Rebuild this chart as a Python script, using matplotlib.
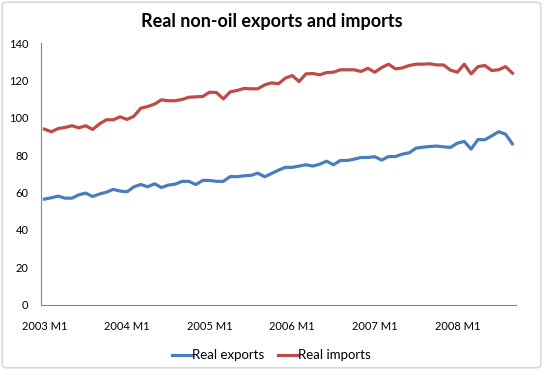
import matplotlib
matplotlib.use("Agg")
import matplotlib.pyplot as plt
import numpy as np
from matplotlib.patches import FancyBboxPatch

plt.rcParams['font.family'] = ['Lato', 'DejaVu Sans']

# monthly data, 2003 M1 .. 2008 M9
real_exports = [
    56.5, 57.2, 58.1, 57.0, 57.0, 58.8, 59.7, 57.9, 59.2, 60.2, 61.7, 60.8,
    60.4, 63.1, 64.3, 63.1, 64.7, 62.7, 64.0, 64.5, 66.0, 66.0, 64.3, 66.5,
    66.5, 66.0, 66.0, 68.6, 68.5, 69.0, 69.2, 70.4, 68.5, 70.2, 72.0, 73.5,
    73.5, 74.2, 74.9, 74.2, 75.2, 76.8, 74.9, 77.2, 77.2, 77.9, 78.8, 78.8,
    79.2, 77.4, 79.3, 79.3, 80.6, 81.3, 83.8, 84.3, 84.7, 84.9, 84.5, 84.2,
    86.5, 87.4, 83.3, 88.4, 88.3, 90.4, 92.6, 91.3, 86.1,
]
real_imports = [
    94.0, 92.6, 94.3, 94.9, 95.8, 94.7, 95.8, 93.8, 96.8, 99.0, 99.0, 100.6,
    99.2, 100.9, 105.2, 106.1, 107.4, 109.7, 109.2, 109.2, 109.9, 111.1, 111.3, 111.5,
    113.8, 113.6, 110.2, 114.0, 114.7, 115.8, 115.6, 115.6, 117.7, 118.8, 118.3, 121.3,
    122.7, 119.5, 123.6, 123.8, 123.1, 124.3, 124.5, 125.8, 125.8, 125.8, 124.9, 126.6,
    124.5, 127.0, 128.8, 126.3, 126.8, 128.1, 128.8, 128.8, 129.0, 128.4, 128.4, 125.6,
    124.5, 128.8, 123.6, 127.5, 128.1, 125.4, 125.8, 127.5, 124.0,
]
tick_years = ['2003 M1', '2004 M1', '2005 M1', '2006 M1', '2007 M1', '2008 M1']

months = np.arange(len(real_exports))

fig = plt.figure(figsize=(5.43, 3.70), dpi=100)
ax = fig.add_axes([0.0755, 0.177, 0.8745, 0.706])

ax.plot(months, real_exports, color='#4A7EBB', lw=2.3, label='Real exports')
ax.plot(months, real_imports, color='#BE4B48', lw=2.3, label='Real imports')

ax.set_xlim(-0.5, len(months) - 0.5)
ax.set_ylim(0, 140)
ax.set_yticks(np.arange(0, 141, 20))
ax.set_xticks(np.arange(0, len(months), 12))
ax.set_xticklabels(tick_years)
ax.tick_params(axis='both', length=0, labelsize=8, colors='black')
ax.tick_params(axis='x', pad=12)
ax.tick_params(axis='y', pad=9)

for side in ['top', 'right']:
    ax.spines[side].set_visible(False)
for side in ['left', 'bottom']:
    ax.spines[side].set_color('#868686')
    ax.spines[side].set_linewidth(0.8)

fig.suptitle('Real non-oil exports and imports', fontsize=13, fontweight='bold',
             y=0.965)

fig.legend(loc='center', bbox_to_anchor=(0.5, 0.04), ncol=2, frameon=False,
           fontsize=9.5, handlelength=1.5, handletextpad=0.05, columnspacing=1.0)

border = FancyBboxPatch((0.004, 0.006), 0.992, 0.988, boxstyle='round,pad=0,rounding_size=0.01',
                        transform=fig.transFigure, fill=False, edgecolor='#D9D9D9', lw=1.2)
fig.patches.append(border)

fig.savefig('out.png', dpi=100)
